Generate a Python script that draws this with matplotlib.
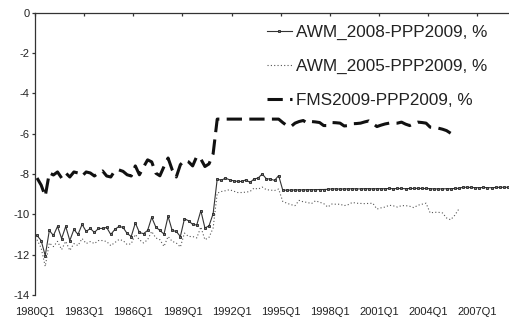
import matplotlib
matplotlib.use("Agg")
import matplotlib.pyplot as plt

plt.rcParams['font.family'] = ['Liberation Sans', 'DejaVu Sans']
plt.rcParams['axes.unicode_minus'] = False

# quarters 1980Q1 .. 2008Q4
quarters = [f"{y}Q{q}" for y in range(1980, 2009) for q in range(1, 5)]

awm_2008 = [
    -11.05, -11.3, -12.05, -10.8, -11.05, -10.6, -11.2, -10.6, -11.3, -10.75,
    -11.0, -10.5, -10.85, -10.7, -10.9, -10.7, -10.7, -10.65, -11.0, -10.75,
    -10.6, -10.65, -10.95, -11.1, -10.43, -10.9, -10.96, -10.8, -10.15, -10.63,
    -10.8, -10.98, -10.1, -10.8, -10.85, -11.1, -10.22, -10.32, -10.5, -10.53,
    -9.82, -10.68, -10.57, -9.97, -8.25, -8.32, -8.2, -8.29, -8.34, -8.37,
    -8.37, -8.29, -8.42, -8.25, -8.2, -8.0, -8.24, -8.25, -8.32, -8.08,
    -8.80, -8.80, -8.80, -8.79, -8.79, -8.79, -8.78, -8.78, -8.78, -8.77,
    -8.77, -8.76, -8.74, -8.74, -8.75, -8.74, -8.74, -8.73, -8.74, -8.74,
    -8.73, -8.73, -8.74, -8.73, -8.73, -8.73, -8.72, -8.73, -8.72, -8.72,
    -8.73, -8.72, -8.72, -8.71, -8.72, -8.72, -8.73, -8.74, -8.74, -8.74,
    -8.73, -8.73, -8.72, -8.71, -8.66, -8.66, -8.67, -8.68, -8.68, -8.67,
    -8.68, -8.68, -8.67, -8.66, -8.66, -8.66,
]

awm_2005 = [
    -11.26, -11.67, -12.58, -11.42, -11.6, -11.34, -11.75, -11.34, -11.79, -11.45,
    -11.55, -11.2, -11.45, -11.35, -11.45, -11.3, -11.3, -11.35, -11.55, -11.4,
    -11.25, -11.3, -11.5, -11.46, -11.0, -11.26, -11.42, -11.26, -10.85, -11.17,
    -11.26, -11.59, -11.1, -11.34, -11.42, -11.62, -10.93, -11.1, -11.1, -11.17,
    -10.63, -11.26, -11.14, -10.68, -8.95, -8.87, -8.83, -8.78, -8.85, -8.92,
    -8.92, -8.9, -8.87, -8.7, -8.75, -8.65, -8.78, -8.8, -8.82, -8.75,
    -9.36, -9.45, -9.52, -9.57, -9.31, -9.38, -9.41, -9.47, -9.33, -9.40,
    -9.47, -9.64, -9.49, -9.50, -9.50, -9.57, -9.52, -9.41, -9.45, -9.46,
    -9.47, -9.46, -9.45, -9.74, -9.68, -9.64, -9.55, -9.58, -9.64, -9.57,
    -9.57, -9.60, -9.67, -9.55, -9.50, -9.45, -9.93, -9.90, -9.90, -9.93,
    -10.18, -10.27, -10.05, -9.74,
]

fms_2009 = [
    -8.2, -8.55, -9.1, -7.95, -8.05, -7.9, -8.2, -7.95, -8.15, -7.9,
    -7.95, -8.1, -7.9, -7.95, -8.1, -7.95, -7.85, -8.1, -8.15, -7.84,
    -7.8, -7.87, -8.04, -8.1, -7.6, -8.04, -7.66, -7.3, -7.4, -7.96,
    -8.09, -7.63, -7.21, -7.79, -8.15, -7.54, -7.33, -7.4, -7.6, -7.13,
    -7.26, -7.63, -7.5, -7.0, -5.28, -5.28, -5.28, -5.28, -5.28, -5.28,
    -5.28, -5.28, -5.28, -5.28, -5.28, -5.28, -5.28, -5.28, -5.28, -5.28,
    -5.45, -5.6, -5.65, -5.48, -5.4, -5.35, -5.48, -5.4, -5.42, -5.45,
    -5.6, -5.6, -5.45, -5.46, -5.48, -5.62, -5.6, -5.51, -5.5, -5.48,
    -5.42, -5.37, -5.5, -5.65, -5.58, -5.52, -5.48, -5.48, -5.48, -5.43,
    -5.53, -5.6, -5.5, -5.43, -5.45, -5.48, -5.68, -5.7, -5.73, -5.78,
    -5.85, -5.98,
]

fig = plt.figure(figsize=(5.1, 3.17), dpi=100)
ax = fig.add_axes([35 / 510, 22 / 317, 475 / 510, 282.4 / 317])

ax.plot(range(len(awm_2008)), awm_2008, color='#333333', lw=0.8,
        marker='s', markersize=1.8, markerfacecolor='#777777',
        markeredgecolor='#222222', markeredgewidth=0.6,
        label='AWM_2008-PPP2009, %')
ax.plot(range(len(awm_2005)), awm_2005, color='#555555', lw=0.8,
        linestyle=(0, (1, 2)), label='AWM_2005-PPP2009, %')
ax.plot(range(len(fms_2009)), fms_2009, color='#111111', lw=2.2,
        linestyle=(0, (5, 2.4)), label='FMS2009-PPP2009, %')

ax.set_xlim(-0.5, len(quarters) - 0.5)
ax.set_ylim(-14, 0)
ax.set_yticks(range(-14, 1, 2))
ax.set_yticklabels([str(v) for v in range(-14, 1, 2)])
tick_idx = list(range(0, len(quarters), 12))
ax.set_xticks([i - 0.5 for i in tick_idx])
ax.set_xticklabels([quarters[i] for i in tick_idx])

for s in ['right', 'bottom']:
    ax.spines[s].set_visible(False)
for s in ['left', 'top']:
    ax.spines[s].set_color('#333333')
    ax.spines[s].set_linewidth(0.9)

ax.tick_params(axis='x', top=True, bottom=False, labeltop=False,
               labelbottom=True, direction='in', length=2.5, width=0.9,
               color='#333333', labelsize=8, labelcolor='#222222', pad=8.5)
ax.tick_params(axis='y', direction='out', length=2.5, width=0.9,
               color='#333333', labelsize=8, labelcolor='#222222', pad=1.5)

leg = ax.legend(loc='upper left', bbox_to_anchor=(267 / 510, 1 - 25 / 317),
                bbox_transform=fig.transFigure, frameon=False, fontsize=12.3,
                handlelength=1.46, handletextpad=0.23, labelspacing=1.1,
                borderpad=0, borderaxespad=0)
for t in leg.get_texts():
    t.set_color('#222222')

fig.savefig('out.png', dpi=100)
